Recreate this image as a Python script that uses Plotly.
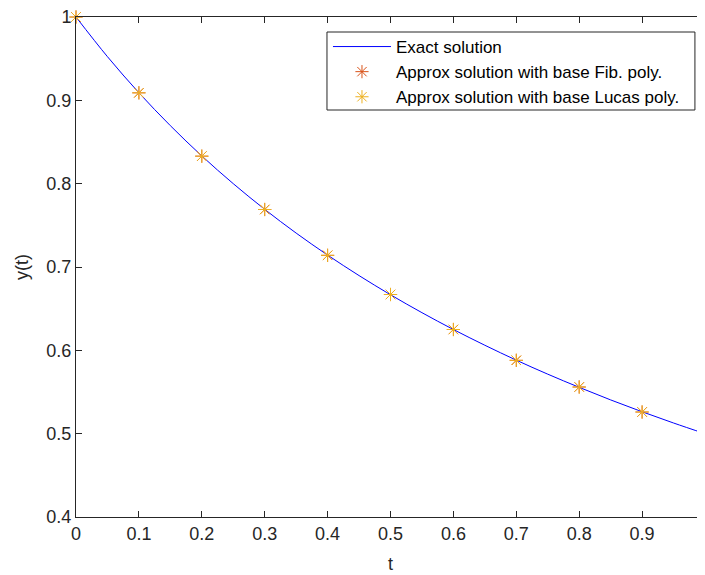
import plotly.graph_objects as go

# Exact solution curve samples
t_exact = [0.0, 0.05, 0.1, 0.15, 0.2, 0.25, 0.3, 0.35, 0.4, 0.45, 0.5,
           0.55, 0.6, 0.65, 0.7, 0.75, 0.8, 0.85, 0.9, 0.95, 1.0]
y_exact = [1.0, 0.9524, 0.9091, 0.8696, 0.8333, 0.8, 0.7692, 0.7407, 0.7143, 0.6897, 0.6667,
           0.6452, 0.625, 0.6061, 0.5882, 0.5714, 0.5556, 0.5405, 0.5263, 0.5128, 0.5]

# Approximate solutions at nodes
t_nodes = [0.0, 0.1, 0.2, 0.3, 0.4, 0.5, 0.6, 0.7, 0.8, 0.9]
y_fib = [1.0, 0.909, 0.833, 0.769, 0.714, 0.667, 0.625, 0.588, 0.556, 0.526]
y_lucas = [1.0, 0.909, 0.833, 0.769, 0.714, 0.667, 0.625, 0.588, 0.556, 0.526]

x_ticks = [0, 0.1, 0.2, 0.3, 0.4, 0.5, 0.6, 0.7, 0.8, 0.9]
x_labels = ["0", "0.1", "0.2", "0.3", "0.4", "0.5", "0.6", "0.7", "0.8", "0.9"]
y_ticks = [0.4, 0.5, 0.6, 0.7, 0.8, 0.9, 1.0]
y_labels = ["0.4", "0.5", "0.6", "0.7", "0.8", "0.9", "1"]

fig = go.Figure()
fig.add_trace(go.Scatter(x=t_exact, y=y_exact, mode="lines", name="Exact solution",
                         line=dict(color="#0000FF", width=1), line_shape="spline",
                         cliponaxis=False))
fig.add_trace(go.Scatter(x=t_nodes, y=y_fib, mode="markers",
                         name="Approx solution with base Fib. poly.", cliponaxis=False,
                         marker=dict(symbol="asterisk-open", size=11, color="#D95319",
                                     line=dict(color="#D95319", width=1))))
fig.add_trace(go.Scatter(x=t_nodes, y=y_lucas, mode="markers",
                         name="Approx solution with base Lucas poly.", cliponaxis=False,
                         marker=dict(symbol="asterisk-open", size=11, color="#EDB120",
                                     line=dict(color="#EDB120", width=1))))

# legend frame drawn as a shape so its size matches the reference
fig.add_shape(type="rect", xref="paper", yref="paper",
              x0=0.399, x1=0.984, y0=0.814, y1=0.97,
              line=dict(color="#262626", width=1), fillcolor="white", layer="above")

FONT = "Liberation Sans, Arial, Helvetica, sans-serif"
fig.update_layout(
    width=697, height=567, autosize=False,
    margin=dict(l=68, r=0, t=9, b=58, autoexpand=False),
    paper_bgcolor="white", plot_bgcolor="white",
    font=dict(family=FONT, size=18, color="#262626"),
    showlegend=True,
    legend=dict(x=0.4006, y=0.976, xanchor="left", yanchor="top",
                bgcolor="rgba(0,0,0,0)", borderwidth=0,
                font=dict(family=FONT, size=17, color="#000000"),
                tracegroupgap=0, itemwidth=58),
    xaxis=dict(range=[0, 1], tickvals=x_ticks, ticktext=x_labels,
               ticks="inside", ticklen=6, tickcolor="#262626",
               showline=True, linecolor="#262626", linewidth=1, mirror="ticks",
               showgrid=False, zeroline=False, automargin=False,
               ticklabeloverflow="allow",
               title=dict(text="t", font=dict(size=18), standoff=14)),
    yaxis=dict(range=[0.4, 1.0], tickvals=y_ticks, ticktext=y_labels,
               ticks="inside", ticklen=6, tickcolor="#262626",
               showline=True, linecolor="#262626", linewidth=1, mirror="ticks",
               showgrid=False, zeroline=False, automargin=False,
               ticklabeloverflow="allow",
               title=dict(text="y(t)", font=dict(size=18), standoff=13)),
)
fig.write_html("out.html")
